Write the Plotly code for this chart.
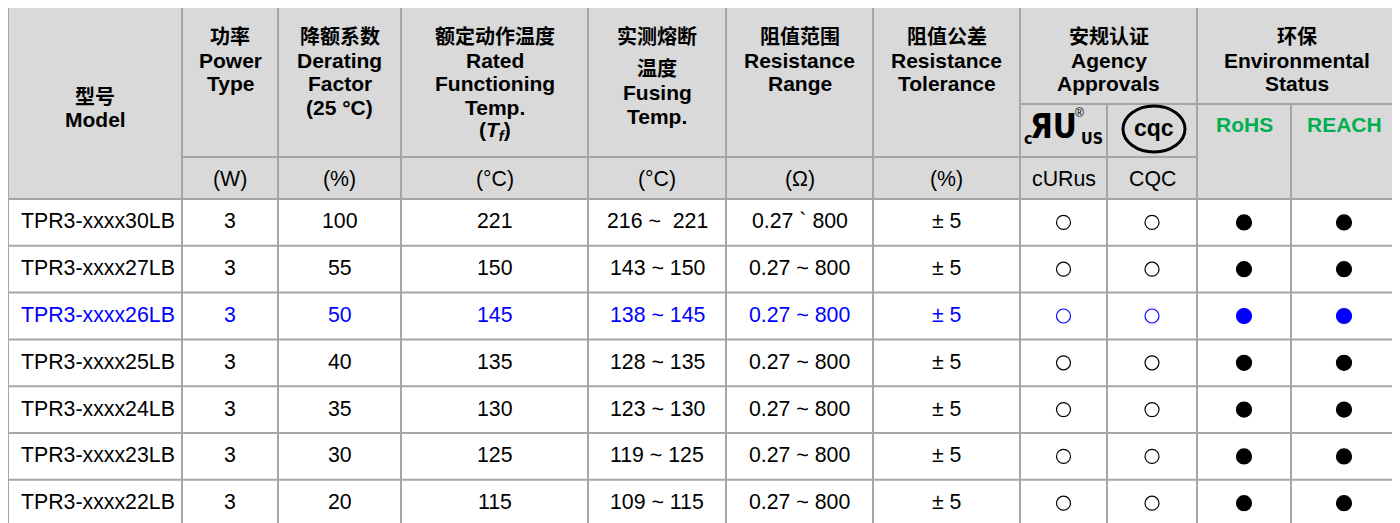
import plotly.graph_objects as go

# ---------------- data ----------------
models = ["TPR3-xxxx30LB", "TPR3-xxxx27LB", "TPR3-xxxx26LB", "TPR3-xxxx25LB",
          "TPR3-xxxx24LB", "TPR3-xxxx23LB", "TPR3-xxxx22LB"]
power_w = ["3", "3", "3", "3", "3", "3", "3"]
derating_pct = ["100", "55", "50", "40", "35", "30", "20"]
rated_temp_c = ["221", "150", "145", "135", "130", "125", "115"]
fusing_temp_c = ["216 ~  221", "143 ~ 150", "138 ~ 145", "128 ~ 135",
                 "123 ~ 130", "119 ~ 125", "109 ~ 115"]
resistance_ohm = ["0.27 ` 800", "0.27 ~ 800", "0.27 ~ 800", "0.27 ~ 800",
                  "0.27 ~ 800", "0.27 ~ 800", "0.27 ~ 800"]
tolerance_pct = ["± 5", "± 5", "± 5", "± 5", "± 5", "± 5", "± 5"]
curus_mark = ["○", "○", "○", "○", "○", "○", "○"]
cqc_mark = ["○", "○", "○", "○", "○", "○", "○"]
rohs_mark = ["●", "●", "●", "●", "●", "●", "●"]
reach_mark = ["●", "●", "●", "●", "●", "●", "●"]
highlight_row = 2

header_lines = [
    ["型号", "Model"],
    ["功率", "Power", "Type"],
    ["降额系数", "Derating", "Factor", "(25 °C)"],
    ["额定动作温度", "Rated", "Functioning", "Temp.", "(<i>T<sub>f</sub></i>)"],
    ["实测熔断", "温度", "Fusing", "Temp."],
    ["阻值范围", "Resistance", "Range"],
    ["阻值公差", "Resistance", "Tolerance"],
    ["安规认证", "Agency", "Approvals"],
    ["环保", "Environmental", "Status"],
]
unit_labels = ["(W)", "(%)", "(°C)", "(°C)", "(Ω)", "(%)", "cURus", "CQC"]
env_labels = ["RoHS", "REACH"]

# ---------------- layout constants ----------------
W, H = 1400, 523
PAGE_MARGIN = 8  # default body margin of the html page
col_edges = [8, 182, 278, 401, 588, 726, 873, 1020, 1107, 1197, 1291, 1397]
header_top, sub_top, unit_top, body_top, row_h = 7, 104, 157, 199, 46.8
header_spans = [(0, 1), (1, 2), (2, 3), (3, 4), (4, 5), (5, 6), (6, 7), (7, 9), (9, 11)]
header_y = {0: [95, 119], 4: [35, 67, 92, 116], 3: [35, 60, 83, 107, 131]}
default_y = [35, 60, 83, 107, 131]

GRID = "#a6a6a6"
HEAD_BG = "#d9d9d9"
BLUE = "#0000ff"
GREEN = "#00b050"
FONT = "Liberation Sans, Arial, Noto Sans CJK SC, sans-serif"
CJK = "Noto Sans CJK SC, Liberation Sans, sans-serif"
COND = "DejaVu Sans Condensed, Liberation Sans Narrow, Liberation Sans, sans-serif"
BODY_SIZE = 21.3

fig = go.Figure()
shapes = []
ann = []

# backgrounds
shapes.append(dict(type="rect", x0=col_edges[0], x1=col_edges[-1], y0=header_top, y1=body_top,
                   fillcolor=HEAD_BG, line_width=0, layer="below"))
shapes.append(dict(type="rect", x0=col_edges[0], x1=col_edges[-1], y0=body_top, y1=H + 10,
                   fillcolor="white", line_width=0, layer="below"))


def hline(y, x0, x1):
    shapes.append(dict(type="line", x0=x0, x1=x1, y0=y, y1=y, line=dict(color=GRID, width=2), layer="below"))


def vline(x, y0, y1):
    shapes.append(dict(type="line", x0=x, x1=x, y0=y0, y1=y1, line=dict(color=GRID, width=2), layer="below"))


n_rows = len(models)
bottom = body_top + row_h * n_rows
hline(header_top, col_edges[0] - 1, col_edges[-1] + 1)
hline(sub_top, col_edges[7], col_edges[-1])
hline(unit_top, col_edges[1], col_edges[9])
for r in range(n_rows + 1):
    hline(body_top + r * row_h, col_edges[0], col_edges[-1])
for i, x in enumerate(col_edges):
    top = sub_top if i in (8, 10) else header_top
    vline(x, top, bottom)


def cx(i0, i1):
    return (col_edges[i0] + col_edges[i1]) / 2


def is_cjk(s):
    return any('\u4e00' <= ch <= '\u9fff' for ch in s)


# header text
for ci, (a, b) in enumerate(header_spans):
    ys = header_y.get(ci, default_y)
    for li, line in enumerate(header_lines[ci]):
        cjk = is_cjk(line)
        ann.append(dict(x=cx(a, b), y=ys[li], text=line, showarrow=False,
                        font=dict(family=CJK if cjk else FONT, size=20 if cjk else 21,
                                  color="black", weight="bold"),
                        xanchor="center", yanchor="middle"))

# units row
for ui, u in enumerate(unit_labels):
    ann.append(dict(x=cx(ui + 1, ui + 2), y=(unit_top + body_top) / 2 + 1, text=u, showarrow=False,
                    font=dict(family=FONT, size=BODY_SIZE, color="black"), xanchor="center", yanchor="middle"))

# environment labels
for ei, e in enumerate(env_labels):
    ann.append(dict(x=cx(9 + ei, 10 + ei), y=124, text=e, showarrow=False,
                    font=dict(family=FONT, size=21, color=GREEN, weight="bold"),
                    xanchor="center", yanchor="middle"))

# UL logo (text approximation)
ulx = cx(7, 8)
ann.append(dict(x=ulx - 35, y=138, text="c", showarrow=False,
                font=dict(family=COND, size=16, color="black", weight="bold"),
                xanchor="center", yanchor="middle"))
ann.append(dict(x=ulx - 10, y=126, text="ЯU", showarrow=False,
                font=dict(family=COND, size=33, color="black", weight="bold"),
                xanchor="center", yanchor="middle"))
ann.append(dict(x=ulx + 28, y=138, text="US", showarrow=False,
                font=dict(family=COND, size=16, color="black", weight="bold"),
                xanchor="center", yanchor="middle"))
ann.append(dict(x=ulx + 16, y=113, text="®", showarrow=False,
                font=dict(family=FONT, size=12, color="black"), xanchor="center", yanchor="middle"))

# CQC logo
cqx = cx(8, 9)
shapes.append(dict(type="circle", x0=cqx - 29, x1=cqx + 33, y0=sub_top + 2, y1=unit_top - 5,
                   line=dict(color="black", width=3), layer="above"))
ann.append(dict(x=cqx + 2, y=128, text="cqc", showarrow=False,
                font=dict(family=FONT, size=23, color="black", weight="bold"),
                xanchor="center", yanchor="middle"))

# body text
text_cols = [models, power_w, derating_pct, rated_temp_c, fusing_temp_c, resistance_ohm, tolerance_pct]
col_nudge = [3, 0, 0, 0, 0, 0, 0]
for r in range(n_rows):
    color = BLUE if r == highlight_row else "black"
    yc = body_top + (r + 0.5) * row_h - 1
    for c, col in enumerate(text_cols):
        ann.append(dict(x=cx(c, c + 1) + col_nudge[c], y=yc, text=col[r], showarrow=False,
                        font=dict(family=FONT, size=BODY_SIZE, color=color),
                        xanchor="center", yanchor="middle"))

# marks via markers
mark_cols = [curus_mark, cqc_mark, rohs_mark, reach_mark]
for mi, col in enumerate(mark_cols):
    xs, ys, syms, cols = [], [], [], []
    for r in range(n_rows):
        xs.append(cx(7 + mi, 8 + mi))
        ys.append(body_top + (r + 0.5) * row_h)
        syms.append("circle-open" if col[r] == "○" else "circle")
        cols.append(BLUE if r == highlight_row else "black")
    size = 14 if col[0] == "○" else 15
    fig.add_trace(go.Scatter(x=xs, y=ys, mode="markers", hoverinfo="skip", showlegend=False,
                             marker=dict(symbol=syms, size=size, color=cols,
                                         line=dict(width=1.2, color=cols))))

fig.update_layout(width=W - PAGE_MARGIN, height=H - PAGE_MARGIN, margin=dict(l=0, r=0, t=0, b=0),
                  paper_bgcolor="white", plot_bgcolor="white",
                  shapes=shapes, annotations=ann, showlegend=False,
                  xaxis=dict(range=[PAGE_MARGIN, W], visible=False, fixedrange=True),
                  yaxis=dict(range=[H, PAGE_MARGIN], visible=False, fixedrange=True))

fig.write_html("out.html")
